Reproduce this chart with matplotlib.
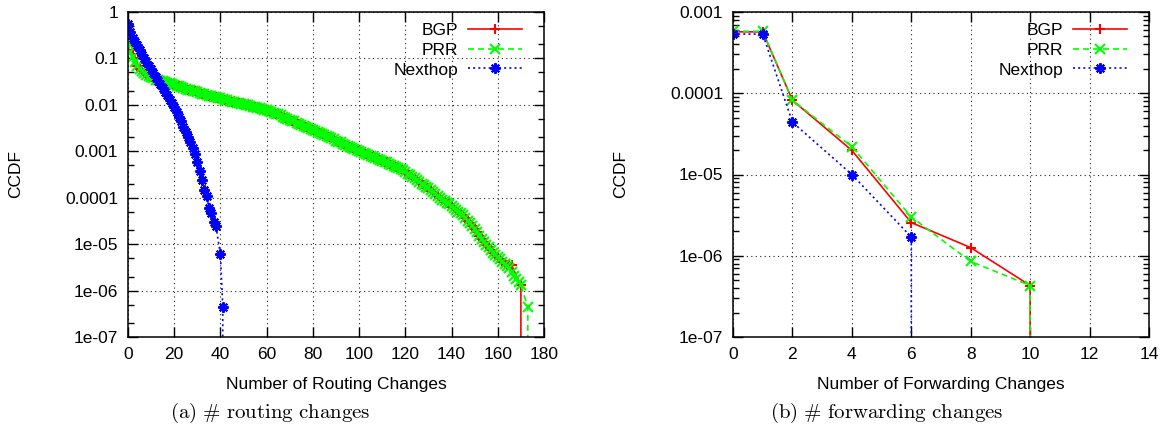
import matplotlib
matplotlib.use("Agg")
import matplotlib.pyplot as plt
from matplotlib.ticker import FixedLocator, LogLocator, NullFormatter

plt.rcParams['font.family'] = ['Liberation Sans', 'DejaVu Sans']
plt.rcParams['mathtext.fontset'] = 'cm'

# ---------------- data: (a) routing changes ----------------
nexthop_rt_x = list(range(0, 39)) + [40, 41, 41]
nexthop_rt_y = [0.54, 0.38, 0.28, 0.23, 0.19, 0.15, 0.12, 0.10, 0.083, 0.069,
                0.058, 0.048, 0.040, 0.033, 0.028, 0.023, 0.019, 0.016, 0.013, 0.011,
                0.0089, 0.0071, 0.0056, 0.0044, 0.0034, 0.0026, 0.0020, 0.0016, 0.0012, 0.00087,
                0.00060, 0.00038, 0.00024, 0.00015, 0.00011, 6.0e-5, 4.8e-5, 3.0e-5, 2.5e-5,
                6.0e-6, 4.4e-7, 0.0]

prr_rt_x = list(range(0, 171)) + [173, 173]
prr_rt_y = [0.214, 0.138, 0.105, 0.083, 0.069, 0.060, 0.054, 0.049, 0.045, 0.042,
            0.039, 0.037, 0.035, 0.034, 0.033, 0.032, 0.031, 0.030, 0.029, 0.028,
            0.027, 0.026, 0.025, 0.024, 0.0235, 0.0224, 0.0214, 0.0209, 0.0200, 0.0195,
            0.0186, 0.0182, 0.0174, 0.0170, 0.0162, 0.0158, 0.0155, 0.0151, 0.0145, 0.0141,
            0.0138, 0.0135, 0.0129, 0.0126, 0.0120, 0.0117, 0.0115, 0.0112, 0.0107, 0.0105,
            0.0102, 0.0100, 0.0098, 0.0093, 0.0091, 0.0089, 0.0087, 0.0085, 0.0081, 0.0079,
            0.0078, 0.0074, 0.0071, 0.0068, 0.0065, 0.0062, 0.0059, 0.0056, 0.0052, 0.0050,
            0.0048, 0.0046, 0.0044, 0.0041, 0.0039, 0.0037, 0.0035, 0.0034, 0.0032, 0.0030,
            0.0029, 0.0028, 0.0026, 0.0025, 0.0023, 0.0022, 0.0021, 0.0020, 0.0019, 0.0018,
            0.0017, 0.00162, 0.00155, 0.00145, 0.00138, 0.00132, 0.00126, 0.00117, 0.00112, 0.00105,
            0.00100, 0.00095, 0.00091, 0.00087, 0.00083, 0.00079, 0.00076, 0.00072, 0.00069, 0.00066,
            0.00063, 0.00060, 0.00058, 0.00054, 0.00051, 0.00049, 0.00046, 0.00044, 0.00041, 0.00039,
            0.00036, 0.00033, 0.00031, 0.00028, 0.00026, 0.00024, 0.00022, 0.00020, 0.000186, 0.000174,
            0.000158, 0.000145, 0.000132, 0.000120, 0.000110, 0.000100, 9.1e-5, 8.5e-5, 7.8e-5, 7.2e-5,
            6.6e-5, 6.0e-5, 5.5e-5, 5.0e-5, 4.6e-5, 4.2e-5, 3.6e-5, 3.2e-5, 2.8e-5, 2.4e-5,
            2.1e-5, 1.8e-5, 1.5e-5, 1.3e-5, 1.1e-5, 9.5e-6, 8.5e-6, 7.6e-6, 6.6e-6, 5.9e-6,
            5.2e-6, 4.7e-6, 4.2e-6, 3.8e-6, 3.4e-6, 3.0e-6, 2.5e-6, 2.1e-6, 1.8e-6, 1.5e-6,
            1.3e-6, 4.4e-7, 0.0]

bgp_rt_x = list(range(0, 167)) + [170, 170]
bgp_rt_y = ([0.52, 0.36, 0.15, 0.10] + prr_rt_y[4:163] +
            [3.9e-6, 3.6e-6, 3.6e-6, 3.5e-6, 1.3e-6, 0.0])

rt_xticks = [0, 20, 40, 60, 80, 100, 120, 140, 160, 180]
rt_yticks = [1, 0.1, 0.01, 0.001, 0.0001, 1e-5, 1e-6, 1e-7]
rt_ylabels = ['1', '0.1', '0.01', '0.001', '0.0001', '1e-05', '1e-06', '1e-07']

# ---------------- data: (b) forwarding changes ----------------
bgp_fw_x = [0, 1, 2, 4, 6, 8, 10, 10]
bgp_fw_y = [5.7e-4, 5.7e-4, 8.2e-5, 1.98e-5, 2.56e-6, 1.26e-6, 4.3e-7, 0.0]
prr_fw_x = [0, 1, 2, 4, 6, 8, 10, 10]
prr_fw_y = [5.8e-4, 5.8e-4, 8.2e-5, 2.2e-5, 3.0e-6, 8.5e-7, 4.3e-7, 0.0]
nexthop_fw_x = [0, 1, 2, 4, 6, 6]
nexthop_fw_y = [5.35e-4, 5.35e-4, 4.4e-5, 1.0e-5, 1.7e-6, 0.0]

fw_xticks = [0, 2, 4, 6, 8, 10, 12, 14]
fw_yticks = [1e-3, 1e-4, 1e-5, 1e-6, 1e-7]
fw_ylabels = ['0.001', '0.0001', '1e-05', '1e-06', '1e-07']

series_names = ['BGP', 'PRR', 'Nexthop']

# ---------------- figure ----------------
W, H = 1167, 434
fig = plt.figure(figsize=(W / 100, H / 100), dpi=100)
ax1 = fig.add_axes([128 / W, 1 - 337 / H, 416 / W, 325 / H])
ax2 = fig.add_axes([733 / W, 1 - 337 / H, 416 / W, 325 / H])

FS = 12.5
red, green, blue = '#ff0000', '#00ff00', '#0000ff'
asterisk = (8, 2, 0)


def style_axes(ax, xlim, ylim, xticks, yticks, ylabels, subs, xlabel):
    ax.set_yscale('log', nonpositive='clip')
    ax.set_xlim(*xlim)
    ax.set_ylim(*ylim)
    ax.xaxis.set_major_locator(FixedLocator(xticks))
    ax.set_xticklabels([str(t) for t in xticks])
    ax.yaxis.set_major_locator(FixedLocator(yticks))
    ax.set_yticklabels(ylabels)
    ax.yaxis.set_minor_locator(LogLocator(base=10, subs=subs, numticks=50))
    ax.yaxis.set_minor_formatter(NullFormatter())
    ax.tick_params(which='both', direction='in', top=True, right=True,
                   labelsize=FS, width=1.0, colors='black')
    ax.tick_params(which='major', length=7, pad=7)
    ax.tick_params(which='minor', length=4)
    for s in ax.spines.values():
        s.set_linewidth(1.1)
    ax.grid(True, which='major', color='#222222', linewidth=0.8,
            linestyle=(0, (1, 3)))
    ax.set_axisbelow(True)
    ax.set_xlabel(xlabel, fontsize=FS)
    ax.xaxis.set_label_coords(0.5, (337 - 384) / 325)
    ax.xaxis.label.set_va('center')
    ax.set_ylabel('CCDF', fontsize=FS)
    ax.yaxis.set_label_coords(-0.269, 0.5)
    ax.yaxis.label.set_va('center')


def draw(ax, bx, by, px, py, nx, ny):
    ax.plot(bx, by, color=red, lw=1.2, marker='+', ms=7, mew=1.5,
            label=series_names[0])
    ax.plot(px, py, color=green, lw=1.2, marker='x', ms=6.5, mew=1.5,
            dashes=(3.6, 2.4), label=series_names[1])
    ax.plot(nx, ny, color=blue, lw=1.2, marker=asterisk, ms=7.5, mew=1.5,
            dashes=(1.2, 1.9), label=series_names[2])
    ax.legend(loc='upper right', bbox_to_anchor=(0.947, 0.966),
              frameon=False, markerfirst=False, fontsize=FS,
              handlelength=3.1, handletextpad=0.55, labelspacing=0.26,
              borderpad=0, borderaxespad=0)


draw(ax1, bgp_rt_x, bgp_rt_y, prr_rt_x, prr_rt_y, nexthop_rt_x, nexthop_rt_y)
style_axes(ax1, (0, 180), (1e-7, 1), rt_xticks, rt_yticks, rt_ylabels,
           (2.0, 5.0), 'Number of Routing Changes')

draw(ax2, bgp_fw_x, bgp_fw_y, prr_fw_x, prr_fw_y, nexthop_fw_x, nexthop_fw_y)
style_axes(ax2, (0, 14), (1e-7, 1e-3), fw_xticks, fw_yticks, fw_ylabels,
           tuple(float(s) for s in range(2, 10)), 'Number of Forwarding Changes')

fig.text(270 / W, 1 - 413 / H, r'$\mathrm{(a)\ \#\ routing\ changes}$',
         fontsize=15, ha='center', va='center')
fig.text(887 / W, 1 - 413 / H, r'$\mathrm{(b)\ \#\ forwarding\ changes}$',
         fontsize=15, ha='center', va='center')

fig.savefig('out.png', dpi=100)
